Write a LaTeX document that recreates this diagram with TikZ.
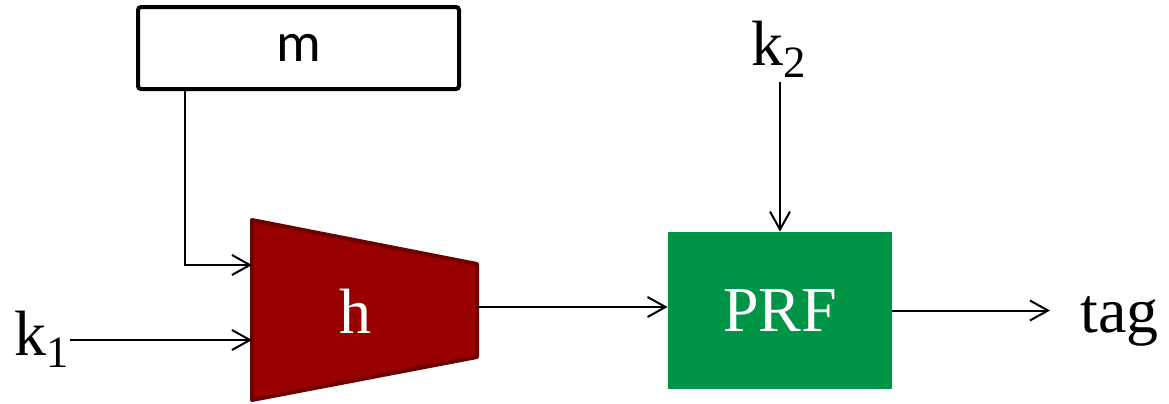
\documentclass[tikz,border=0pt]{standalone}
\usepackage{fontspec}
\setmainfont{Liberation Serif}
\newfontfamily\msgfont{Carlito}
\usetikzlibrary{arrows.meta}
\definecolor{hashred}{RGB}{153,0,0}
\definecolor{hashedge}{RGB}{110,0,0}
\definecolor{prfgreen}{RGB}{0,148,70}

\begin{document}
\begin{tikzpicture}[x=0.5pt,y=-0.5pt,
    link/.style={line width=1pt,-{Straight Barb[length=9pt,width=10pt]}},
    big/.style={font=\fontsize{32}{38}\selectfont, inner sep=0pt}]
  \useasboundingbox (0,0) rectangle (1169,403);

  % message block
  \node[draw, line width=2pt, rounded corners=1.5pt, minimum width=160.5pt, minimum height=41pt,
        font=\msgfont\fontsize{28}{34}\selectfont] (msg) at (298.5,48) {m};

  % hash stage (trapezoid) with its ports
  \draw[line width=2pt, draw=hashedge, fill=hashred, line join=round]
    (252,220) -- (477,264) -- (477,357) -- (252,400) -- cycle;
  \node[big, text=white] (hash) at (355,311) {h};
  \coordinate (hin1) at (252,265);
  \coordinate (hin2) at (252,340);
  \coordinate (hout) at (477,307);

  \node[fill=prfgreen, minimum width=112pt, minimum height=78.5pt, big, text=white] (prf) at (780,310.5) {PRF};

  \node[big, anchor=base] (k1) at (42,355) {k\textsubscript{1}};
  \node[big, anchor=base] (k2) at (779,65) {k\textsubscript{2}};
  \node[big, anchor=base west] (tag) at (1080,332) {tag};

  \draw[link] ([xshift=24.5pt]msg.south west) |- (hin1);
  \draw[link] (k1.east |- hin2) -- (hin2);
  \draw[link] (hout) -- (hout -| prf.west);
  \draw[link, shorten <=2pt] (k2.south -| prf.north) -- (prf.north);
  \draw[link, shorten >=15pt] (prf.east) -- (prf.east -| tag.west);

\end{tikzpicture}
\end{document}
